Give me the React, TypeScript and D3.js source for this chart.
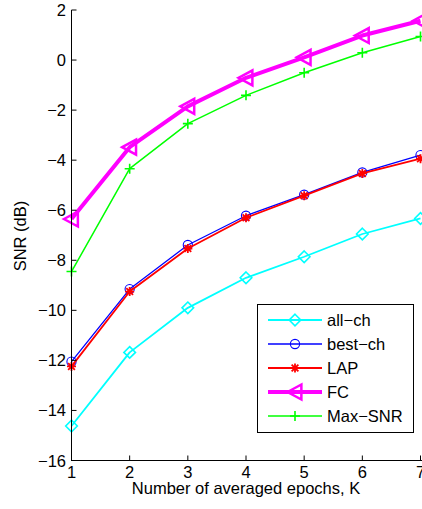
import React from "react";
import * as d3 from "d3";

const epochs = [1, 2, 3, 4, 5, 6, 7];
const allCh = [-14.62, -11.68, -9.9, -8.7, -7.86, -6.95, -6.33];
const bestCh = [-12.05, -9.15, -7.39, -6.22, -5.38, -4.49, -3.8];
const lap = [-12.24, -9.25, -7.53, -6.3, -5.42, -4.53, -3.94];
const fc = [-6.35, -3.48, -1.85, -0.71, 0.11, 0.98, 1.57];
const maxSnr = [-8.45, -4.34, -2.54, -1.41, -0.51, 0.29, 0.94];
const xTicks = [1, 2, 3, 4, 5, 6, 7];
const yTicks = [-16, -14, -12, -10, -8, -6, -4, -2, 0, 2];
const seriesNames = ["all\u2212ch", "best\u2212ch", "LAP", "FC", "Max\u2212SNR"];

const W = 422;
const H = 509;
const FONT = "'Liberation Sans', Arial, Helvetica, sans-serif";
const FS = 16.5;

type Series = { name: string; values: number[]; color: string; width: number; marker: string };

const series: Series[] = [
  { name: seriesNames[0], values: allCh, color: "#00ffff", width: 1.8, marker: "diamond" },
  { name: seriesNames[1], values: bestCh, color: "#0000ff", width: 1.3, marker: "circle" },
  { name: seriesNames[2], values: lap, color: "#ff0000", width: 1.8, marker: "star" },
  { name: seriesNames[3], values: fc, color: "#ff00ff", width: 4, marker: "triangle" },
  { name: seriesNames[4], values: maxSnr, color: "#00ff00", width: 1.5, marker: "plus" },
];

function Marker({ type, x, y, color }: { type: string; x: number; y: number; color: string }) {
  if (type === "diamond") {
    const s = 5.8;
    return (
      <path
        d={`M${x},${y - s}L${x + s},${y}L${x},${y + s}L${x - s},${y}Z`}
        fill="none"
        stroke={color}
        strokeWidth={1.6}
      />
    );
  }
  if (type === "circle") {
    return <circle cx={x} cy={y} r={4.6} fill="none" stroke={color} strokeWidth={1.1} />;
  }
  if (type === "star") {
    const s = 4.5;
    const d = s * 0.75;
    return (
      <path
        d={`M${x - s},${y}L${x + s},${y}M${x},${y - s}L${x},${y + s}M${x - d},${y - d}L${x + d},${y + d}M${x - d},${y + d}L${x + d},${y - d}`}
        stroke={color}
        strokeWidth={1.8}
        fill="none"
      />
    );
  }
  if (type === "triangle") {
    const h = 7.5;
    return (
      <path
        d={`M${x - h},${y}L${x + h * 0.85},${y - h}L${x + h * 0.85},${y + h}Z`}
        fill="none"
        stroke={color}
        strokeWidth={2.5}
        strokeLinejoin="miter"
      />
    );
  }
  const s = 5;
  return (
    <path
      d={`M${x - s},${y}L${x + s},${y}M${x},${y - s}L${x},${y + s}`}
      stroke={color}
      strokeWidth={1.6}
      fill="none"
    />
  );
}

export default function App() {
  const x = d3.scaleLinear().domain([1, 7]).range([71.5, 420.5]);
  const y = d3.scaleLinear().domain([-16, 2]).range([460.5, 10]);
  const line = d3
    .line<number>()
    .x((_, i) => x(epochs[i]))
    .y((v) => y(v));

  const legX = 257;
  const legY = 304;
  const legW = 156;
  const legH = 128;

  return (
    <svg
      width={W}
      height={H}
      style={{ position: "absolute", left: 0, top: 0, background: "#fff" }}
      fontFamily={FONT}
    >
      <rect x={0} y={0} width={W} height={H} fill="#fff" />
      {series.map((s) => (
        <g key={s.name}>
          <path d={line(s.values) || ""} fill="none" stroke={s.color} strokeWidth={s.width} strokeLinejoin="round" />
          {s.values.map((v, i) => (
            <Marker key={i} type={s.marker} x={x(epochs[i])} y={y(v)} color={s.color} />
          ))}
        </g>
      ))}
      {/* axes */}
      <line x1={71.5} x2={W} y1={460.5} y2={460.5} stroke="#000" strokeWidth={1} />
      <line x1={71.5} x2={71.5} y1={10} y2={461} stroke="#000" strokeWidth={1} />
      {yTicks.map((t) => (
        <g key={t}>
          <line x1={71.5} x2={76.5} y1={y(t)} y2={y(t)} stroke="#000" />
          <text x={66} y={y(t) + 6} textAnchor="end" fontSize={FS} fill="#000">
            {t < 0 ? `\u2212${Math.abs(t)}` : t}
          </text>
        </g>
      ))}
      {xTicks.map((t) => (
        <g key={t}>
          <line x1={x(t)} x2={x(t)} y1={460.5} y2={455.5} stroke="#000" />
          <text x={x(t)} y={477.5} textAnchor="middle" fontSize={FS} fill="#000">
            {t}
          </text>
        </g>
      ))}
      <text x={246} y={494} textAnchor="middle" fontSize={FS} fill="#000">
        Number of averaged epochs, K
      </text>
      <text
        transform={`translate(26,236) rotate(-90)`}
        textAnchor="middle"
        fontSize={FS}
        fill="#000"
      >
        SNR (dB)
      </text>
      {/* legend */}
      <rect x={legX + 0.5} y={legY + 0.5} width={legW} height={legH} fill="#fff" stroke="#000" strokeWidth={1} />
      {series.map((s, i) => {
        const cy = legY + 16 + i * 24;
        return (
          <g key={s.name}>
            <line x1={268} x2={322} y1={cy} y2={cy} stroke={s.color} strokeWidth={s.width} />
            <Marker type={s.marker} x={295} y={cy} color={s.color} />
            <text x={327} y={cy + 6} fontSize={FS} fill="#000">
              {s.name}
            </text>
          </g>
        );
      })}
    </svg>
  );
}
